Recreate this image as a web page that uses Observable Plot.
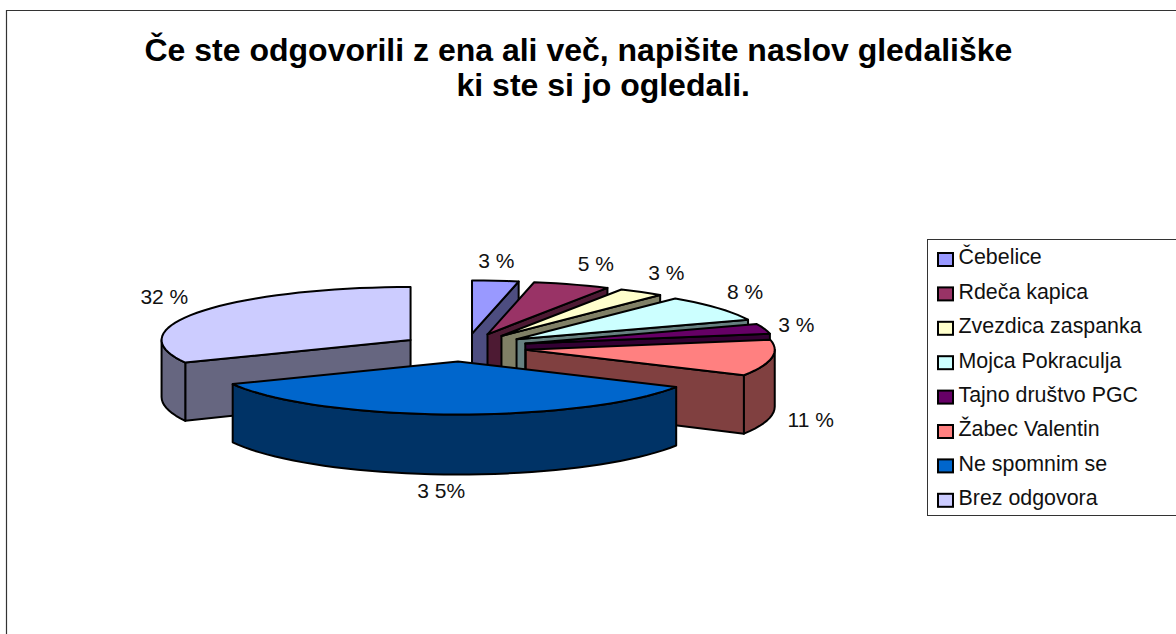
<!DOCTYPE html>
<html>
<head>
<meta charset="utf-8">
<style>html,body{margin:0;padding:0;background:#fff}svg{display:block}</style>
<script src="https://cdn.jsdelivr.net/npm/d3@7"></script>
<script src="https://cdn.jsdelivr.net/npm/@observablehq/plot@0.6"></script>
</head>
<body>
<script>
const categories = ["Čebelice","Rdeča kapica","Zvezdica zaspanka","Mojca Pokraculja","Tajno društvo PGC","Žabec Valentin","Ne spomnim se","Brez odgovora"];
const values = [3,5,3,8,3,11,35,32];
const valueLabels = ["3 %","5 %","3 %","8 %","3 %","11 %","3 5%","32 %"];
const topColors = ["#9999FF","#993366","#FFFFCC","#CCFFFF","#660066","#FF8080","#0066CC","#CCCCFF"];
const sideColors = ["#4D4D80","#4D1A33","#808066","#668080","#330033","#804040","#003366","#666680"];
const titleLines = ["Če ste odgovorili z ena ali več, napišite naslov gledališke","ki ste si jo ogledali."];

// layout of the tilted, exploded pie (page units)
const pie = {cx:462.5, cy:347, ex:64, ey:14, skew:3, a:249, b:53, bLow:56, h:57};
const labelNudge = [[1,-20],[24,-20],[25,-19],[27,-16],[32,-4],[39,62],[-9,77],[-36,-14]];
const rad = d => d*Math.PI/180;

const arcs = d3.pie().sort(null).startAngle(0).endAngle(2*Math.PI)(values).map((p,i)=>{
  const s=p.startAngle*180/Math.PI, e=p.endAngle*180/Math.PI, m=(s+e)/2;
  const ax=pie.cx+pie.ex*Math.sin(rad(m))+pie.skew*Math.cos(rad(m));
  const ay=pie.cy-pie.ey*Math.cos(rad(m));
  return {i,s,e,m,ax,ay};
});
const rim=(t,deg)=>({x:t.ax+pie.a*Math.sin(rad(deg)),y:t.ay-pie.b*Math.cos(rad(deg))});
const rimLow=(t,deg)=>({x:t.ax+pie.a*Math.sin(rad(deg)),y:t.ay-pie.bLow*Math.cos(rad(deg))+pie.h});
const sweep=(from,to)=>{const n=Math.max(2,Math.ceil((to-from)/3));return d3.range(n+1).map(k=>from+(to-from)*k/n);};

const faces=[];
const addFace=(id,key,pts)=>{pts.concat([pts[0]]).forEach(p=>faces.push({id,key,x:p.x,y:p.y}));};
[0,1,2,3,4,5,7,6].forEach(i=>{
  const t=arcs[i], name=categories[i], side=name+" side", ap={x:t.ax,y:t.ay}, apD={x:t.ax,y:t.ay+pie.h};
  if(t.e<180) addFace(name+"-end",side,[ap,rim(t,t.e),rimLow(t,t.e),apD]);
  if(t.s>180) addFace(name+"-start",side,[ap,rim(t,t.s),rimLow(t,t.s),apD]);
  const f=Math.max(t.s,90), g=Math.min(t.e,270);
  if(g>f){const up=sweep(f,g).map(d=>rim(t,d)),dn=sweep(f,g).reverse().map(d=>rimLow(t,d));addFace(name+"-rim",side,up.concat(dn));}
  addFace(name+"-top",name,[ap].concat(sweep(t.s,t.e).map(d=>rim(t,d))));
});

const labels=arcs.map(t=>{const p=rim(t,t.m);return {text:valueLabels[t.i],x:p.x+labelNudge[t.i][0],y:p.y+labelNudge[t.i][1]};});

const legend={x:927,y1:239,y2:515,swX1:938,swX2:953,textX:958,rowY:259.5,rowStep:34.4,sw:13};
const legendRows=categories.map((name,i)=>({name,y:legend.rowY+legend.rowStep*i}));

const chart=Plot.plot({
  width:1176,height:634,margin:0,
  x:{axis:null,domain:[0,1176],range:[0,1176]},
  y:{axis:null,domain:[0,634],range:[0,634]},
  color:{domain:categories.concat(categories.map(c=>c+" side")),range:topColors.concat(sideColors)},
  style:{fontFamily:"'Liberation Sans',Arial,sans-serif",background:"#fff",color:"#000"},
  marks:[
    Plot.ruleY([10],{x1:6,x2:1176,stroke:"#333",strokeWidth:1.2}),
    Plot.ruleX([6],{y1:10,y2:634,stroke:"#333",strokeWidth:1.2}),
    Plot.line(faces,{x:"x",y:"y",z:"id",fill:"key",stroke:"#000",strokeWidth:2,curve:"linear"}),
    Plot.text(labels,{x:"x",y:"y",text:"text",fontSize:21,fill:"#111",textAnchor:"middle",lineAnchor:"middle"}),
    Plot.text([titleLines[0]],{x:[144],y:[50],text:d=>d,fontSize:32,fontWeight:"bold",fill:"#000",textAnchor:"start",lineAnchor:"middle"}),
    Plot.text([titleLines[1]],{x:[456],y:[85],text:d=>d,fontSize:32,fontWeight:"bold",fill:"#000",textAnchor:"start",lineAnchor:"middle"}),
    Plot.ruleY([legend.y1,legend.y2],{x1:legend.x,x2:1176,stroke:"#333",strokeWidth:1}),
    Plot.ruleX([legend.x],{y1:legend.y1,y2:legend.y2,stroke:"#333",strokeWidth:1}),
    Plot.rect(legendRows,{x1:legend.swX1,x2:legend.swX2,y1:d=>d.y-legend.sw/2,y2:d=>d.y+legend.sw/2,fill:"name",stroke:"#000",strokeWidth:2}),
    Plot.text(legendRows,{x:legend.textX,y:d=>d.y-2.5,text:"name",fontSize:21.4,fill:"#111",textAnchor:"start",lineAnchor:"middle"})
  ]
});
document.body.appendChild(chart);
</script>
</body>
</html>
